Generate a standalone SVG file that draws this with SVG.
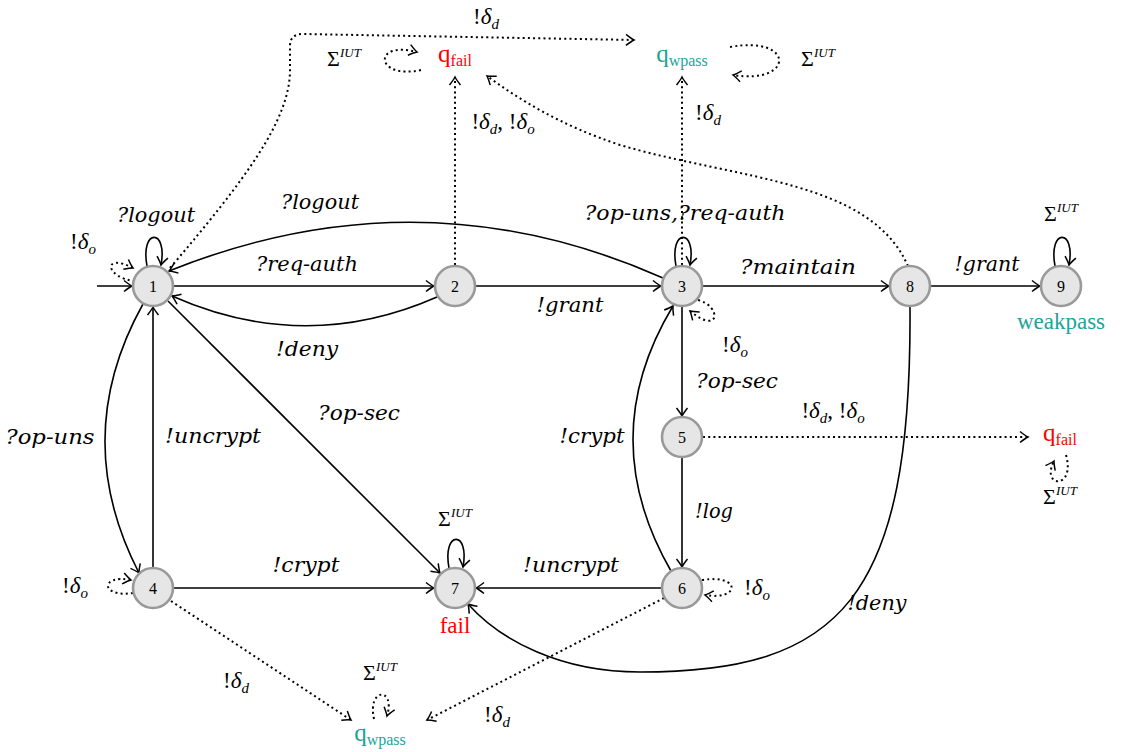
<svg xmlns="http://www.w3.org/2000/svg" width="1121" height="752" viewBox="0 0 1121 752" font-family="Times New Roman">
<defs>
<marker id="a" markerUnits="userSpaceOnUse" markerWidth="14" markerHeight="14" viewBox="-10 -7 14 14" refX="0" refY="0" orient="auto">
<path d="M-8,-5.5 Q-2.5,-1.2 0,0 Q-2.5,1.2 -8,5.5" fill="none" stroke="#000" stroke-width="1.5" stroke-dasharray="none"/>
</marker>
</defs>
<g id="connectors" fill="none" stroke="#000" marker-end="url(#a)">
<g stroke-width="1.6">
<path d="M97,286 L132,286"/>
<path d="M174,286 L434,286"/>
<path d="M476,286 L661,286"/>
<path d="M703,286 L889,286"/>
<path d="M931,286 L1040,286"/>
<path d="M682,307 L682,416"/>
<path d="M682,458 L682,567"/>
<path d="M661,588 L476,588"/>
<path d="M174,588 L434,588"/>
<path d="M153,567 L153,307"/>
<path d="M168,301 L440,573"/>
<path d="M143,304 Q69,437 139,573"/>
<path d="M671,571 Q594,437 673,306"/>
<path d="M663,278 Q420,170 169,271"/>
<path d="M437,297 Q305,355 172,296"/>
<path d="M910,307 C912,600 840,672 640,672 C560,672 500,640 468,604"/>
<path d="M147,266 C140,228 168,228 161,265"/>
<path d="M676,266 C669,228 697,228 690,265"/>
<path d="M449,568 C442,530 470,530 463,567"/>
<path d="M1055,266 C1048,228 1076,228 1069,265"/>
</g>
<g stroke-width="2" stroke-dasharray="2 3.2">
<path d="M455,265 L455,77"/>
<path d="M682,265 L682,77"/>
<path d="M703,437 L1028,437"/>
<path d="M171,601 L351,720"/>
<path d="M664,598 L427,720"/>
<path d="M908,266 C870,180 740,180 620,145 C560,125 520,100 487,76"/>
<path d="M170,268 C245,180 290,120 290,70 L290,46 Q290,34 303,34 L634,40"/>
<path d="M135,281 C105,278 102,252 133,268"/>
<path d="M133,593 C100,598 100,574 131,580"/>
<path d="M698,300 C722,306 720,336 690,311"/>
<path d="M702,580 C742,574 740,601 705,595"/>
<path d="M421,70 C375,80 372,40 417,52"/>
<path d="M730,47 C795,35 795,85 733,75"/>
<path d="M1066,455 C1076,490 1040,488 1054,461"/>
<path d="M374,719 C367,687 396,687 387,716"/>
</g>
</g>
<g font-family="Times New Roman" font-size="16" text-anchor="middle">
<g id="n1"><circle cx="153" cy="286" r="20" fill="#e6e6e6" stroke="#999" stroke-width="2.6"/><text x="153" y="292">1</text></g>
<g id="n2"><circle cx="455" cy="286" r="20" fill="#e6e6e6" stroke="#999" stroke-width="2.6"/><text x="455" y="292">2</text></g>
<g id="n3"><circle cx="682" cy="286" r="20" fill="#e6e6e6" stroke="#999" stroke-width="2.6"/><text x="682" y="292">3</text></g>
<g id="n4"><circle cx="153" cy="588" r="20" fill="#e6e6e6" stroke="#999" stroke-width="2.6"/><text x="153" y="594">4</text></g>
<g id="n5"><circle cx="682" cy="437" r="20" fill="#e6e6e6" stroke="#999" stroke-width="2.6"/><text x="682" y="443">5</text></g>
<g id="n6"><circle cx="682" cy="588" r="20" fill="#e6e6e6" stroke="#999" stroke-width="2.6"/><text x="682" y="594">6</text></g>
<g id="n7"><circle cx="455" cy="588" r="20" fill="#e6e6e6" stroke="#999" stroke-width="2.6"/><text x="455" y="594">7</text></g>
<g id="n8"><circle cx="910" cy="286" r="20" fill="#e6e6e6" stroke="#999" stroke-width="2.6"/><text x="910" y="292">8</text></g>
<g id="n9"><circle cx="1061" cy="286" r="20" fill="#e6e6e6" stroke="#999" stroke-width="2.6"/><text x="1061" y="292">9</text></g>
</g>
<g font-family="Times New Roman" font-size="25" text-anchor="middle">
<g id="qfail-top"><text fill="#ff0000" x="455" y="62">q<tspan font-size="16" dy="4">fail</tspan></text></g>
<g id="qwpass-top"><text fill="#1aa597" x="682" y="62">q<tspan font-size="16" dy="4">wpass</tspan></text></g>
<g id="qfail-right"><text fill="#ff0000" x="1060" y="441">q<tspan font-size="16" dy="4">fail</tspan></text></g>
<g id="qwpass-bottom"><text fill="#1aa597" x="380" y="741">q<tspan font-size="16" dy="4">wpass</tspan></text></g>
</g>
<g id="labels" font-family="DejaVu Serif" text-anchor="middle">
<g font-style="italic" font-size="20">
<text x="320" y="209" textLength="78" lengthAdjust="spacingAndGlyphs">?logout</text>
<text x="156" y="222" textLength="78" lengthAdjust="spacingAndGlyphs">?logout</text>
<text x="307" y="271" textLength="102" lengthAdjust="spacingAndGlyphs">?req-auth</text>
<text x="685" y="220" textLength="201" lengthAdjust="spacingAndGlyphs">?op-uns,?req-auth</text>
<text x="798" y="274" textLength="116" lengthAdjust="spacingAndGlyphs">?maintain</text>
<text x="987" y="271" textLength="65" lengthAdjust="spacingAndGlyphs">!grant</text>
<text x="570" y="312" textLength="67" lengthAdjust="spacingAndGlyphs">!grant</text>
<text x="307" y="356" textLength="62" lengthAdjust="spacingAndGlyphs">!deny</text>
<text x="737" y="388" textLength="82" lengthAdjust="spacingAndGlyphs">?op-sec</text>
<text x="359" y="420" textLength="82" lengthAdjust="spacingAndGlyphs">?op-sec</text>
<text x="50" y="444" textLength="89" lengthAdjust="spacingAndGlyphs">?op-uns</text>
<text x="213" y="443" textLength="96" lengthAdjust="spacingAndGlyphs">!uncrypt</text>
<text x="592" y="443" textLength="65" lengthAdjust="spacingAndGlyphs">!crypt</text>
<text x="714" y="518" textLength="38" lengthAdjust="spacingAndGlyphs">!log</text>
<text x="306" y="572" textLength="67" lengthAdjust="spacingAndGlyphs">!crypt</text>
<text x="571" y="572" textLength="96" lengthAdjust="spacingAndGlyphs">!uncrypt</text>
<text x="877" y="610" textLength="59" lengthAdjust="spacingAndGlyphs">!deny</text>
</g>
</g>
<g font-family="Times New Roman" text-anchor="middle">
<g font-size="23">
<text x="486" y="24">!<tspan font-style="italic">&#948;</tspan><tspan font-style="italic" font-size="15" dy="5">d</tspan></text>
<text x="503" y="129">!<tspan font-style="italic">&#948;</tspan><tspan font-style="italic" font-size="15" dy="5">d</tspan><tspan dy="-5">, !</tspan><tspan font-style="italic">&#948;</tspan><tspan font-style="italic" font-size="15" dy="5">o</tspan></text>
<text x="708" y="120">!<tspan font-style="italic">&#948;</tspan><tspan font-style="italic" font-size="15" dy="5">d</tspan></text>
<text x="83" y="249">!<tspan font-style="italic">&#948;</tspan><tspan font-style="italic" font-size="15" dy="5">o</tspan></text>
<text x="735" y="352">!<tspan font-style="italic">&#948;</tspan><tspan font-style="italic" font-size="15" dy="5">o</tspan></text>
<text x="833" y="418">!<tspan font-style="italic">&#948;</tspan><tspan font-style="italic" font-size="15" dy="5">d</tspan><tspan dy="-5">, !</tspan><tspan font-style="italic">&#948;</tspan><tspan font-style="italic" font-size="15" dy="5">o</tspan></text>
<text x="75" y="593">!<tspan font-style="italic">&#948;</tspan><tspan font-style="italic" font-size="15" dy="5">o</tspan></text>
<text x="757" y="595">!<tspan font-style="italic">&#948;</tspan><tspan font-style="italic" font-size="15" dy="5">o</tspan></text>
<text x="236" y="688">!<tspan font-style="italic">&#948;</tspan><tspan font-style="italic" font-size="15" dy="5">d</tspan></text>
<text x="497" y="722">!<tspan font-style="italic">&#948;</tspan><tspan font-style="italic" font-size="15" dy="5">d</tspan></text>
</g>
<g font-size="22">
<text x="344" y="66">&#931;<tspan font-style="italic" font-size="13" dy="-9">IUT</tspan></text>
<text x="818" y="66">&#931;<tspan font-style="italic" font-size="13" dy="-9">IUT</tspan></text>
<text x="1061" y="221">&#931;<tspan font-style="italic" font-size="13" dy="-9">IUT</tspan></text>
<text x="455" y="526">&#931;<tspan font-style="italic" font-size="13" dy="-9">IUT</tspan></text>
<text x="1060" y="504">&#931;<tspan font-style="italic" font-size="13" dy="-9">IUT</tspan></text>
<text x="380" y="680">&#931;<tspan font-style="italic" font-size="13" dy="-9">IUT</tspan></text>
</g>
<g font-size="23">
<text fill="#1aa597" x="1061" y="329">weakpass</text>
<text fill="#ff0000" x="455" y="633">fail</text>
</g>
</g>
</svg>
